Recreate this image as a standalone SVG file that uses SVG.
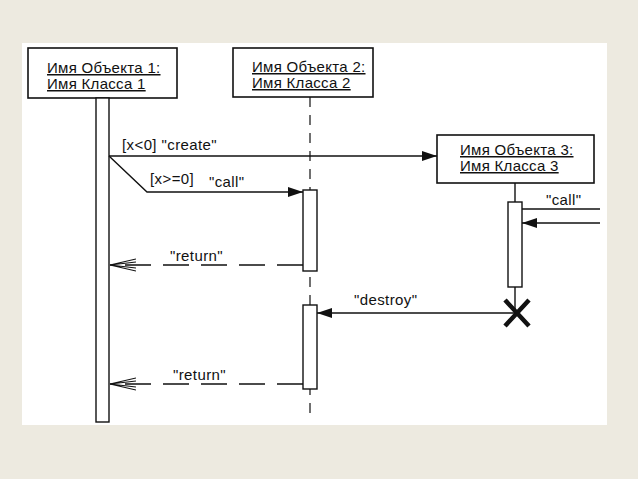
<svg xmlns="http://www.w3.org/2000/svg" width="638" height="479" viewBox="0 0 638 479">
<style>
.box{fill:#fff;stroke:#111;stroke-width:1.6}
.bar{fill:#fff;stroke:#111;stroke-width:1.4}
.t{font-family:"Liberation Sans",Arial,sans-serif;font-size:15px;letter-spacing:0.3px;fill:#111}
.u{text-decoration:underline}
.lbl{font-family:"Liberation Sans",Arial,sans-serif;font-size:15px;letter-spacing:0.4px;fill:#111}
.msg{stroke:#111;stroke-width:1.4;fill:none}
.ret{stroke:#111;stroke-width:1.4;fill:none;stroke-dasharray:26 12}
.life{stroke:#111;stroke-width:1.2;stroke-dasharray:10 8}
</style>
<defs>
<marker id="fill" markerWidth="16" markerHeight="10" refX="15" refY="5" orient="auto" markerUnits="userSpaceOnUse">
<path d="M0,0 L15,5 L0,10 Z" fill="#111"/>
</marker>
<marker id="open" markerWidth="28" markerHeight="14" refX="26" refY="7" orient="auto" markerUnits="userSpaceOnUse">
<path d="M0,1 L26,7 L0,13 M0,4 L26,7 L0,10" fill="none" stroke="#111" stroke-width="1.2"/>
</marker>
</defs>
<rect x="0" y="0" width="638" height="479" fill="#EDEAE0"/>
<rect x="22" y="43" width="585" height="382" fill="#fff"/>

<g id="lifelines">
<line class="life" x1="310" y1="97" x2="310" y2="418"/>
<line x1="515" y1="183" x2="515" y2="313" stroke="#111" stroke-width="1.4"/>
</g>

<g id="obj1">
<rect class="box" x="28" y="48" width="149" height="50"/>
<text class="t u" x="47" y="73">Имя Объекта 1:</text>
<text class="t u" x="47" y="89">Имя Класса 1</text>
<rect class="bar" x="96" y="98" width="13" height="324"/>
</g>

<g id="obj2">
<rect class="box" x="233" y="48" width="140" height="49"/>
<text class="t u" x="252" y="72">Имя Объекта 2:</text>
<text class="t u" x="252" y="88">Имя Класса 2</text>
<rect class="bar" x="303" y="190" width="14" height="81"/>
<rect class="bar" x="303" y="305" width="14" height="84"/>
</g>

<g id="obj3">
<rect class="box" x="437" y="135" width="157" height="48"/>
<text class="t u" x="460" y="155">Имя Объекта 3:</text>
<text class="t u" x="460" y="171">Имя Класса 3</text>
<rect class="bar" x="508" y="202" width="14" height="85"/>
<path d="M505,300 L529,326 M529,300 L505,326" stroke="#111" stroke-width="4.5" fill="none"/>
</g>

<g id="connectors">
<line class="msg" x1="109" y1="156" x2="437" y2="156" marker-end="url(#fill)"/>
<polyline class="msg" points="109,156 147,192 303,192" marker-end="url(#fill)"/>
<line class="msg" x1="522" y1="209" x2="600" y2="209"/>
<line class="msg" x1="600" y1="223" x2="522" y2="223" marker-end="url(#fill)"/>
<line class="ret" x1="303" y1="265" x2="110" y2="265" marker-end="url(#open)"/>
<line class="msg" x1="517" y1="313" x2="317" y2="313" marker-end="url(#fill)"/>
<line class="ret" x1="303" y1="384" x2="110" y2="384" marker-end="url(#open)"/>
</g>

<g id="labels">
<text class="lbl" x="122" y="150">[x&lt;0] "create"</text>
<text class="lbl" x="150" y="184">[x&gt;=0]</text>
<text class="lbl" x="209" y="187">"call"</text>
<text class="lbl" x="546" y="205">"call"</text>
<text class="lbl" x="170" y="261">"return"</text>
<text class="lbl" x="354" y="305">"destroy"</text>
<text class="lbl" x="173" y="380">"return"</text>
</g>
</svg>
